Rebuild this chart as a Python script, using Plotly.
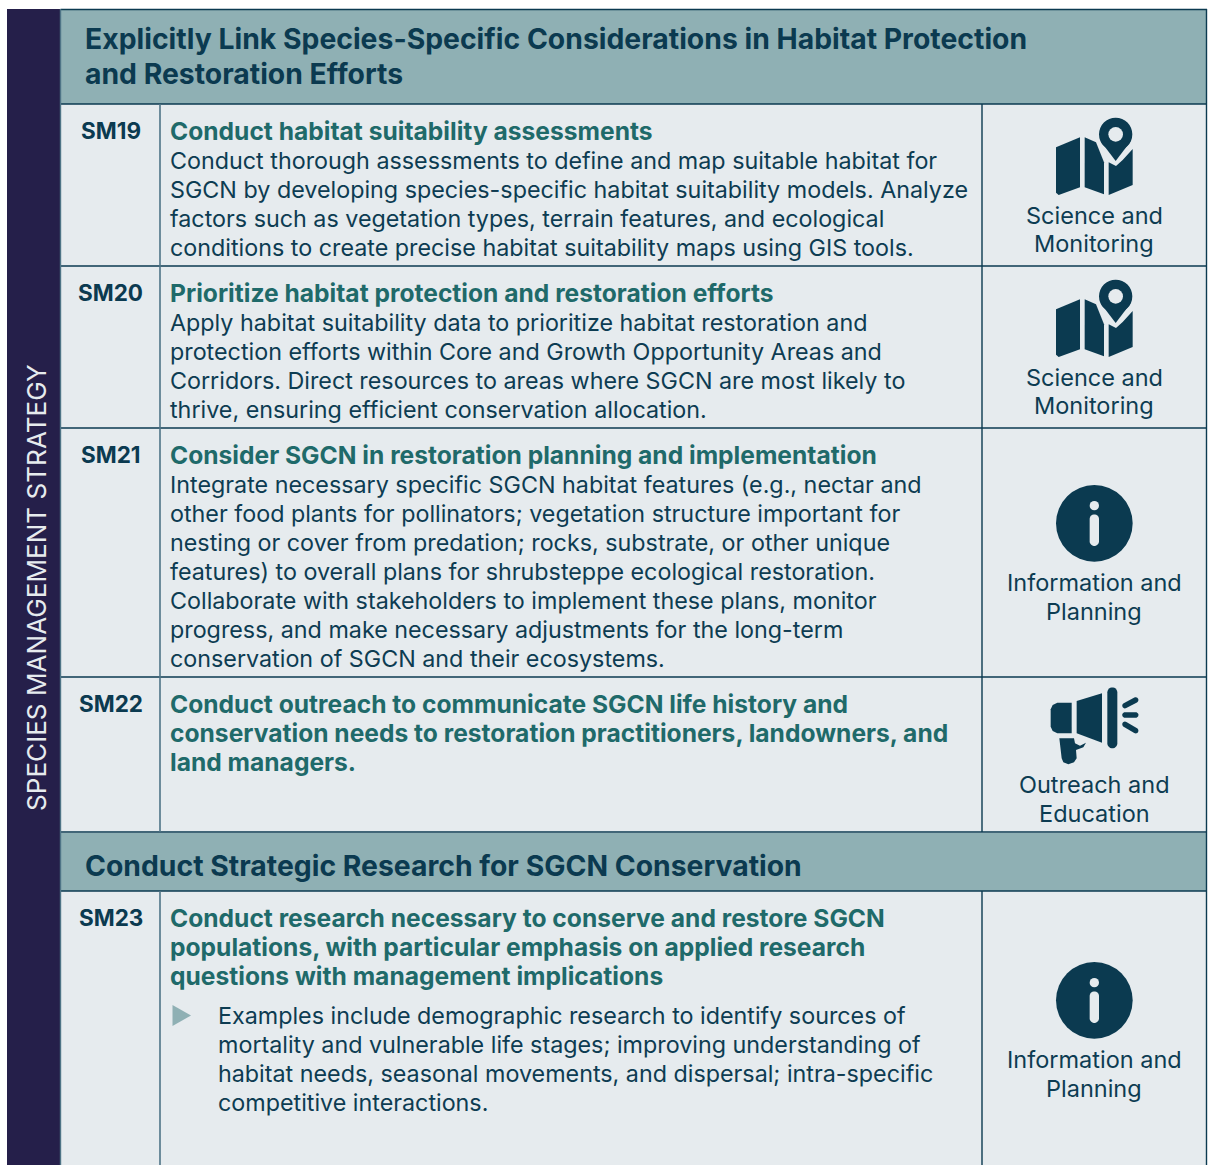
import numpy as np
import plotly.graph_objects as go

FONT = "Inter"
W, H = 1208, 1165
NAVY, BAND, CELL, PURPLE, INK, TEAL, RULE = "#0b3a50", "#8fb0b4", "#e6ebee", "#251f4a", "#0d3c52", "#1f6a6a", "#4e7486"

heading_one = ["Explicitly Link Species-Specific Considerations in Habitat Protection", "and Restoration Efforts"]
heading_two = ["Conduct Strategic Research for SGCN Conservation"]
side_label = "SPECIES MANAGEMENT STRATEGY"
codes = ["SM19", "SM20", "SM21", "SM22", "SM23"]
titles = [
    ["Conduct habitat suitability assessments"],
    ["Prioritize habitat protection and restoration efforts"],
    ["Consider SGCN in restoration planning and implementation"],
    ["Conduct outreach to communicate SGCN life history and",
     "conservation needs to restoration practitioners, landowners, and",
     "land managers."],
    ["Conduct research necessary to conserve and restore SGCN",
     "populations, with particular emphasis on applied research",
     "questions with management implications"],
]
bodies = [
    ["Conduct thorough assessments to define and map suitable habitat for",
     "SGCN by developing species-specific habitat suitability models. Analyze",
     "factors such as vegetation types, terrain features, and ecological",
     "conditions to create precise habitat suitability maps using GIS tools."],
    ["Apply habitat suitability data to prioritize habitat restoration and",
     "protection efforts within Core and Growth Opportunity Areas and",
     "Corridors. Direct resources to areas where SGCN are most likely to",
     "thrive, ensuring efficient conservation allocation."],
    ["Integrate necessary specific SGCN habitat features (e.g., nectar and",
     "other food plants for pollinators; vegetation structure important for",
     "nesting or cover from predation; rocks, substrate, or other unique",
     "features) to overall plans for shrubsteppe ecological restoration.",
     "Collaborate with stakeholders to implement these plans, monitor",
     "progress, and make necessary adjustments for the long-term",
     "conservation of SGCN and their ecosystems."],
    [],
    ["Examples include demographic research to identify sources of",
     "mortality and vulnerable life stages; improving understanding of",
     "habitat needs, seasonal movements, and dispersal; intra-specific",
     "competitive interactions."],
]
categories = [["Science and", "Monitoring"], ["Science and", "Monitoring"],
              ["Information and", "Planning"], ["Outreach and", "Education"],
              ["Information and", "Planning"]]
icons = ["map", "map", "info", "horn", "info"]

row_top = [104, 266, 428, 677, 891]
row_bot = [266, 428, 677, 832, 1168]
title_y = [131, 293, 455, 704, 918]
body_y = [160.8, 322.8, 484.8, None, 1015.8]
label_y = [215, 377, 582, 784, 1059]
label_step = [28.2, 28.2, 29.2, 29.2, 29.2]
icon_y = [100, 262, 470, 675, 947]  # top of the icon's local frame

X0, X1, X2, X3 = 60.5, 160, 982, 1206.5
shapes, notes = [], []

def rect(x0, y0, x1, y1, fill, line=None, lw=0):
    shapes.append(dict(type="rect", x0=x0, y0=y0, x1=x1, y1=y1, fillcolor=fill, line=dict(color=line or fill, width=lw), layer="below"))

def path(pts, fill=NAVY):
    d = "M " + " L ".join(f"{a:.2f},{b:.2f}" for a, b in pts) + " Z"
    shapes.append(dict(type="path", path=d, fillcolor=fill, line=dict(width=0), layer="above"))

def circle(cx, cy, r, fill=NAVY):
    shapes.append(dict(type="circle", x0=cx-r, x1=cx+r, y0=cy-r, y1=cy+r, fillcolor=fill, line=dict(width=0), layer="above"))

def capsule(xa, ya, xb, yb, w, fill=NAVY):
    ang = np.arctan2(yb-ya, xb-xa)
    t1 = np.linspace(ang+np.pi/2, ang+3*np.pi/2, 12)
    t2 = np.linspace(ang-np.pi/2, ang+np.pi/2, 12)
    pts = [(xa+w/2*np.cos(t), ya+w/2*np.sin(t)) for t in t1] + [(xb+w/2*np.cos(t), yb+w/2*np.sin(t)) for t in t2]
    path(pts, fill)

def text(x, y, s, size, color=INK, weight=400, anchor="left", angle=0):
    notes.append(dict(x=x, y=y, text=s, showarrow=False, xanchor=anchor, yanchor="middle", textangle=angle,
                      align=anchor, font=dict(family=FONT, size=size, color=color, weight=weight)))

def icon(kind, ox, oy):
    p = lambda L: [(ox+a/3, oy+b/3) for a, b in L]
    if kind == "map":
        path(p([(228,142),(300,112),(300,262),(236,285),(228,278)]))
        path(p([(314,112),(348,127),(372,187),(372,283),(314,262)]))
        path(p([(386,187),(408,198),(428,180),(458,147),(458,255),(386,285)]))
        circle(ox+407/3, oy+103/3, 50/3)
        path(p([(407,183),(362,124),(452,124)]))
        circle(ox+407/3, oy+103/3, 22/3, CELL)
    elif kind == "info":
        circle(ox+343/3, oy+160/3, 115/3)
        circle(ox+343/3, oy+107/3, 14/3, CELL)
        (a, b), (c, d) = p([(343,147),(343,214)])
        capsule(a, b, c, d, 28/3, CELL)
    else:
        path(p([(232,83),(275,83),(275,175),(232,175),(218,168),(212,155),(212,103),(218,90)]))
        path(p([(290,78),(366,55),(366,203),(290,175)]))
        (a, b), (c, d) = p([(397,52),(397,205)])
        capsule(a, b, c, d, 10)
        for L in [[(435,92),(467,75)], [(435,120),(467,120)], [(435,148),(467,167)]]:
            (a, b), (c, d) = p(L)
            capsule(a, b, c, d, 5.5)
        path(p([(238,190),(282,190),(285,205),(300,212),(318,203),(310,217),(288,225),(290,250),(282,262),(265,268),(250,262),(245,250)]))

# panels
rect(7, 9, X0, H+5, PURPLE)
rect(X0, 9, 1207, 104, BAND)
rect(X0, 104, 1207, H+5, CELL)
rect(X0, 833, 1207, 891, BAND)
# rules
for y in [9.5, 104, 266, 428, 677, 832, 891]:
    shapes.append(dict(type="line", x0=X0, x1=1207, y0=y, y1=y, line=dict(color=NAVY, width=1.4), layer="below"))
shapes.append(dict(type="line", x0=X0, x1=X0, y0=9, y1=H+5, line=dict(color=RULE, width=1.4), layer="below"))
shapes.append(dict(type="line", x0=X3, x1=X3, y0=9, y1=H+5, line=dict(color=NAVY, width=1.4), layer="below"))
for top, bot in zip(row_top, row_bot):
    shapes.append(dict(type="line", x0=X1, x1=X1, y0=top, y1=bot, line=dict(color=RULE, width=1.6), layer="below"))
    shapes.append(dict(type="line", x0=X2, x1=X2, y0=top, y1=bot, line=dict(color=NAVY, width=1.4), layer="below"))

# headings
HS, TS, BS, CS, LS = 28.35, 24.6, 23.3, 22.5, 23.5
text(83, 39, heading_one[0], HS, NAVY, 700)
text(83, 74, heading_one[1], HS, NAVY, 700)
text(83, 866, heading_two[0], HS, NAVY, 700)
text(36, 588, side_label, 26.1, "#e6ebee", 400, "center", -90)

for i, code in enumerate(codes):
    text(110.5, title_y[i]-0.5, code, CS, NAVY, 700, "center")
    for k, line in enumerate(titles[i]):
        text(168, title_y[i] + k*28.8, line, TS, TEAL, 700)
    bx = 216 if i == 4 else 168
    for k, line in enumerate(bodies[i]):
        text(bx, body_y[i] + k*28.9, line, BS, INK)
    for k, line in enumerate(categories[i]):
        text(1094, label_y[i] + k*label_step[i], line, LS, INK, 400, "center")
    icon(icons[i], 980, icon_y[i])

# bullet
path([(172.5, 1005), (191, 1015.5), (172.5, 1026)], BAND)

fig = go.Figure()
fig.update_layout(width=W, height=H, margin=dict(l=0, r=0, t=0, b=0), paper_bgcolor="white", plot_bgcolor="white",
                  showlegend=False, shapes=shapes, annotations=notes,
                  xaxis=dict(range=[0, W], visible=False, fixedrange=True),
                  yaxis=dict(range=[H, 0], visible=False, fixedrange=True))
fig.write_html("out.html", config=dict(displayModeBar=False),
               post_script="document.body.style.margin='0';document.body.style.overflow='hidden';")
